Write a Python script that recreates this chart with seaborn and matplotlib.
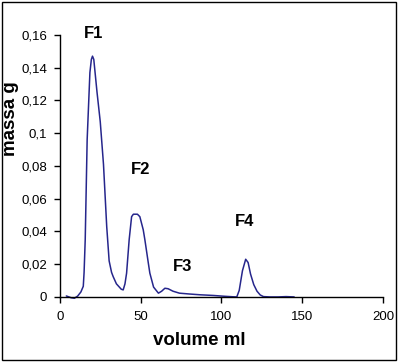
import matplotlib
matplotlib.use('Agg')
import matplotlib.pyplot as plt
from matplotlib.ticker import FuncFormatter
from matplotlib.patches import Rectangle
import seaborn as sns
import pandas as pd

# valori (volume ml, massa g)
volume = [4, 7, 9, 11, 13, 14.5, 15, 15.7, 16.9, 18.6, 19.5, 20.2, 21, 22, 23, 25, 27, 29,
          30.5, 32, 33, 35, 38, 39.2, 40.3, 41.3, 42.9, 44.4, 45.5, 48, 49.5, 51.6, 52.6,
          54.7, 55.7, 58, 61, 63, 65, 67, 70, 74, 80, 87, 95, 102, 107, 109.5, 111, 113,
          115, 116.5, 118, 120, 122, 124, 126, 130, 135, 140, 145]
massa = [0.0006, -0.0005, -0.0008, 0.0005, 0.003, 0.0065, 0.015, 0.035, 0.096, 0.137,
         0.145, 0.147, 0.145, 0.135, 0.125, 0.107, 0.081, 0.043, 0.022, 0.015, 0.0124,
         0.008, 0.0047, 0.0043, 0.008, 0.0145, 0.035, 0.049, 0.0505, 0.0505, 0.049, 0.041,
         0.035, 0.021, 0.0145, 0.006, 0.0023, 0.0035, 0.0053, 0.005, 0.0035, 0.0023,
         0.0018, 0.0013, 0.0009, 0.0004, 0.0001, 0.0, 0.004, 0.016, 0.023, 0.021, 0.014,
         0.0075, 0.0035, 0.0012, 0.0002, 0.0, 0.0, 0.0002, 0.0]

frazioni = ['F1', 'F2', 'F3', 'F4']
pos_x = [21, 50.2, 76.2, 114.5]
pos_y = [0.161, 0.0776, 0.0183, 0.0458]

df = pd.DataFrame({'volume': volume, 'massa': massa})

sns.set_style('ticks')
plt.rcParams['font.family'] = ['Liberation Sans', 'DejaVu Sans']
plt.rcParams['text.color'] = 'black'
plt.rcParams['xtick.color'] = 'black'
plt.rcParams['ytick.color'] = 'black'
plt.rcParams['axes.labelcolor'] = 'black'

fig = plt.figure(figsize=(3.99, 3.63), dpi=100)
ax = fig.add_axes([0.150, 0.182, 0.810, 0.722])

sns.lineplot(data=df, x='volume', y='massa', ax=ax, color='#26268c', linewidth=1.1,
             clip_on=False)

for f, x, y in zip(frazioni, pos_x, pos_y):
    ax.text(x, y, f, ha='center', va='center', fontsize=12, fontweight='bold')

ax.set_xlim(0, 200)
ax.set_ylim(0, 0.16)
ax.set_xticks([0, 50, 100, 150, 200])
ax.set_yticks([0, 0.02, 0.04, 0.06, 0.08, 0.1, 0.12, 0.14, 0.16])
ax.yaxis.set_major_formatter(FuncFormatter(lambda v, p: f'{v:g}'.replace('.', ',')))
ax.tick_params(labelsize=9.5, length=4, width=1, direction='out')
ax.tick_params(axis='x', pad=6)
ax.tick_params(axis='y', pad=5)
ax.set_xlabel('volume ml', fontsize=13.5, fontweight='bold')
ax.set_ylabel('massa g', fontsize=13.5, fontweight='bold')
ax.xaxis.set_label_coords(0.430, -0.134)
ax.yaxis.set_label_coords(-0.127, 0.681)
for s in ['left', 'bottom']:
    ax.spines[s].set_color('black')
    ax.spines[s].set_linewidth(1)
sns.despine(ax=ax)

fig.patches.append(Rectangle((0.005, 0.008), 0.987, 0.986, transform=fig.transFigure,
                             fill=False, edgecolor='black', linewidth=1))

fig.savefig('out.png', dpi=100)
